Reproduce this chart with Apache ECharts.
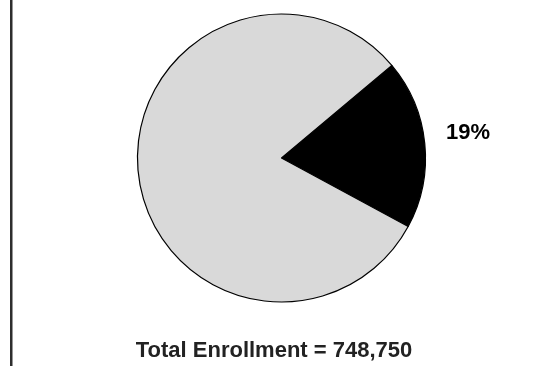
<!DOCTYPE html>
<html>
<head>
<meta charset="utf-8">
<style>
  html, body { margin: 0; padding: 0; background: #fff; }
  #chart { width: 538px; height: 366px; }
</style>
<script src="https://cdn.jsdelivr.net/npm/echarts@6/dist/echarts.min.js"></script>
</head>
<body>
<div id="chart"></div>
<script>
// Enrollment share (percent)
const categories = ['Group A', 'Other'];
const shares = [19, 81];
const sliceColors = ['#000000', '#d9d9d9'];
const totalLabel = 'Total Enrollment = 748,750';

const chart = echarts.init(document.getElementById('chart'), null, { renderer: 'canvas' });

chart.setOption({
  animation: false,
  backgroundColor: '#ffffff',
  title: {
    text: totalLabel,
    left: 269,
    top: 335,
    textAlign: 'center',
    textStyle: {
      fontFamily: 'Liberation Sans, Arial, sans-serif',
      fontSize: 22,
      fontWeight: 'bold',
      color: '#222222',
      lineHeight: 22
    }
  },
  graphic: [
    {
      type: 'rect',
      shape: { x: 10, y: 0, width: 2.5, height: 366 },
      style: { fill: '#2e2e2e' },
      silent: true
    }
  ],
  series: [
    {
      type: 'pie',
      center: [281.5, 158],
      radius: [0, 144],
      startAngle: 40,
      clockwise: true,
      silent: true,
      itemStyle: { borderColor: '#000000', borderWidth: 1.2 },
      labelLine: { show: false },
      label: {
        show: true,
        position: 'outside',
        formatter: '{d}%',
        fontFamily: 'Liberation Sans, Arial, sans-serif',
        fontSize: 22,
        fontWeight: 'bold',
        color: '#000000'
      },
      labelLayout: function (params) {
        if (params.dataIndex === 0) {
          return { x: 468, y: 133, align: 'center', verticalAlign: 'middle' };
        }
        return {};
      },
      data: categories.map((name, i) => ({
        name: name,
        value: shares[i],
        itemStyle: { color: sliceColors[i] },
        label: { show: i === 0 }
      }))
    }
  ]
});
</script>
</body>
</html>
